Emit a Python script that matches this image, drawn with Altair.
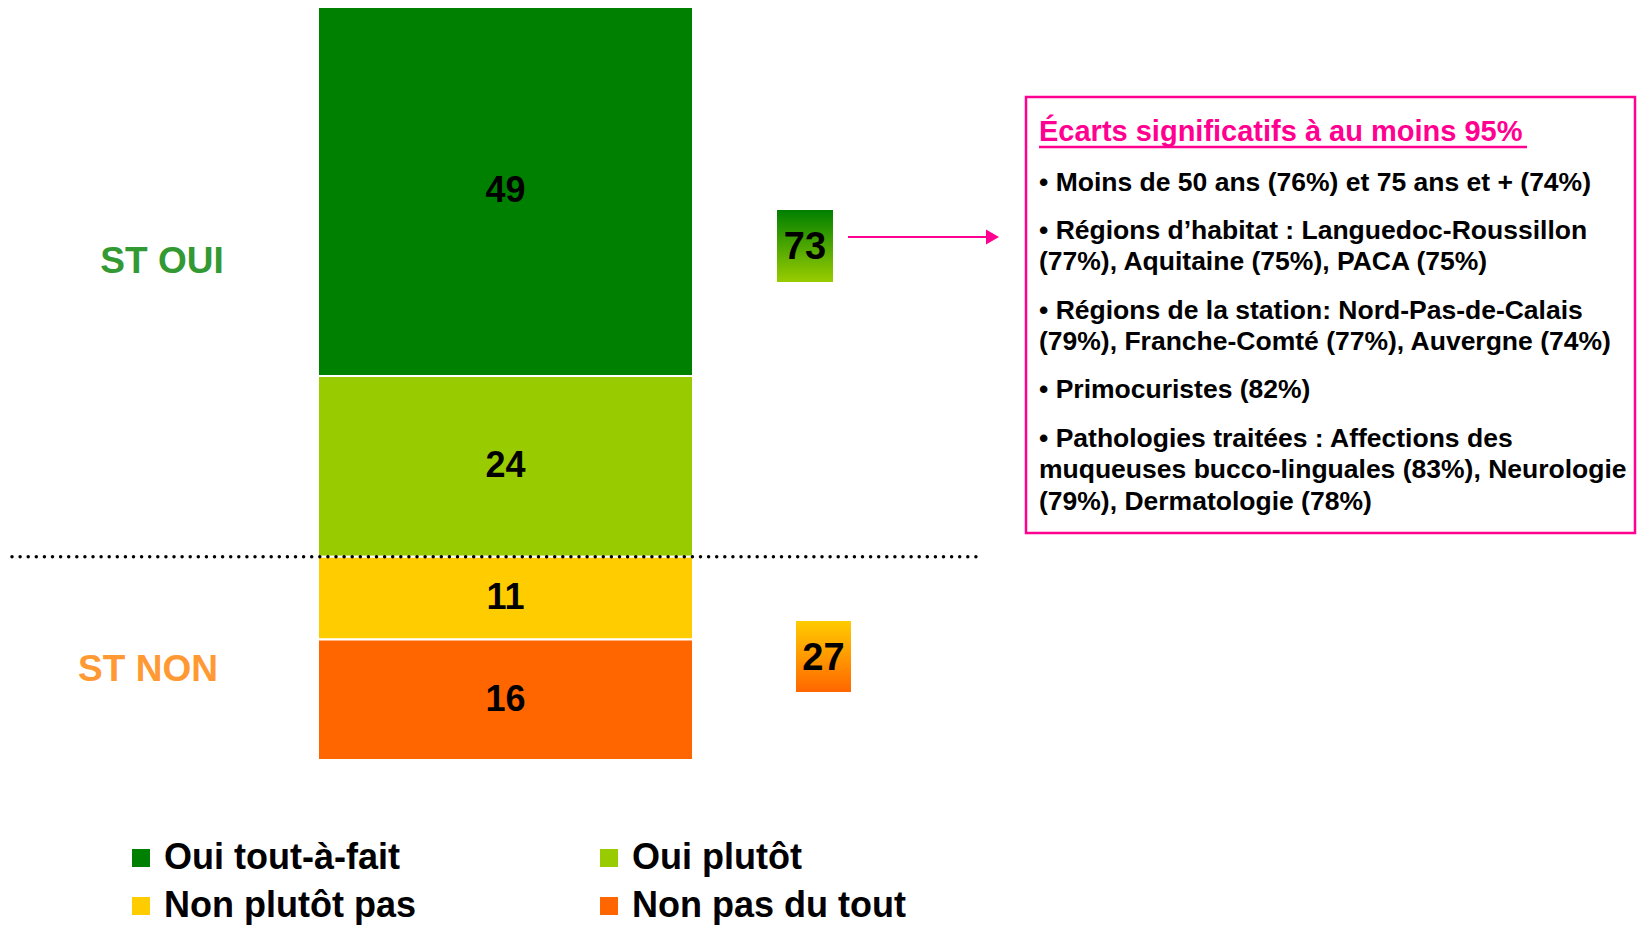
import altair as alt
import pandas as pd

# ---------------- data ----------------
categories = ["Oui tout-à-fait", "Oui plutôt", "Non plutôt pas", "Non pas du tout"]
values = [49, 24, 11, 16]
colors = ["#008000", "#99CC00", "#FFCC00", "#FF6600"]
yes_categories = ["Oui tout-à-fait", "Oui plutôt"]
no_categories = ["Non plutôt pas", "Non pas du tout"]
group_labels = ["ST OUI", "ST NON"]
group_colors = ["#339933", "#FF9933"]
box_title = "Écarts significatifs à au moins 95%"
box_paragraphs = [
    ["• Moins de 50 ans (76%) et 75 ans et + (74%)"],
    ["• Régions d’habitat : Languedoc-Roussillon",
     "(77%), Aquitaine (75%), PACA (75%)"],
    ["• Régions de la station: Nord-Pas-de-Calais",
     "(79%), Franche-Comté (77%), Auvergne (74%)"],
    ["• Primocuristes (82%)"],
    ["• Pathologies traitées : Affections des",
     "muqueuses bucco-linguales (83%), Neurologie",
     "(79%), Dermatologie (78%)"],
]

# ---------------- layout / style ----------------
FONT = "Liberation Sans"
PINK = "#FF0090"
W, H = 1629, 920
BAR_X0, BAR_X1 = 310, 685
Y_RANGE = [-1, 752]

df = pd.DataFrame({"cat": categories, "value": values})
df["end"] = df["value"].cumsum()
df["start"] = df["end"] - df["value"]
df["mid"] = (df["start"] + df["end"]) / 2

yes_total = int(df[df["cat"].isin(yes_categories)]["value"].sum())
no_total = int(df[df["cat"].isin(no_categories)]["value"].sum())
total = int(df["value"].sum())

yscale = alt.Scale(domain=[0, total], range=Y_RANGE, nice=False, zero=False)

bars = alt.Chart(df).mark_rect(stroke="white", strokeWidth=2).encode(
    x=alt.value(BAR_X0),
    x2=alt.value(BAR_X1),
    y=alt.Y("start:Q", scale=yscale, axis=None),
    y2="end:Q",
    color=alt.Color(
        "cat:N",
        scale=alt.Scale(domain=categories, range=colors),
        legend=alt.Legend(
            title=None, orient="none", legendX=115, legendY=832,
            direction="horizontal",
            columns=2, columnPadding=175, rowPadding=12, padding=0,
            symbolType="square", symbolSize=324, symbolStrokeWidth=0,
            symbolOpacity=1,
            labelFont=FONT, labelFontSize=36, labelFontWeight="bold",
            labelColor="black", labelOffset=5, labelLimit=0,
        ),
    ),
)

bar_labels = alt.Chart(df).mark_text(
    font=FONT, fontSize=36, fontWeight="bold", color="black", baseline="middle"
).encode(
    x=alt.value((BAR_X0 + BAR_X1) / 2),
    y=alt.Y("mid:Q", scale=yscale),
    text="value:Q",
)

dotted = alt.Chart(pd.DataFrame({"v": [yes_total]})).mark_rule(
    color="black", strokeWidth=3.5, strokeDash=[0, 8.1], strokeCap="round"
).encode(
    x=alt.value(4), x2=alt.value(976), y=alt.Y("v:Q", scale=yscale)
)

st_oui = alt.Chart(pd.DataFrame({"t": [group_labels[0]]})).mark_text(
    font=FONT, fontSize=37, fontWeight="bold", color=group_colors[0], baseline="middle"
).encode(x=alt.value(154), y=alt.value(254), text="t:N")

st_non = alt.Chart(pd.DataFrame({"t": [group_labels[1]]})).mark_text(
    font=FONT, fontSize=37, fontWeight="bold", color=group_colors[1], baseline="middle"
).encode(x=alt.value(140), y=alt.value(662), text="t:N")

grad_yes = alt.LinearGradient(
    gradient="linear", x1=0, x2=0, y1=0, y2=1,
    stops=[alt.GradientStop(offset=0, color=colors[0]),
           alt.GradientStop(offset=1, color=colors[1])],
)
grad_no = alt.LinearGradient(
    gradient="linear", x1=0, x2=0, y1=0, y2=1,
    stops=[alt.GradientStop(offset=0, color=colors[2]),
           alt.GradientStop(offset=1, color=colors[3])],
)

yes_df = pd.DataFrame({"v": [yes_total]})
no_df = pd.DataFrame({"v": [no_total]})

box_yes = alt.Chart(yes_df).mark_rect(fill=grad_yes).encode(
    x=alt.value(769), x2=alt.value(825), y=alt.value(202), y2=alt.value(274)
)
txt_yes = alt.Chart(yes_df).mark_text(
    font=FONT, fontSize=38, fontWeight="bold", color="black", baseline="middle"
).encode(x=alt.value(797), y=alt.value(240), text="v:Q")

box_no = alt.Chart(no_df).mark_rect(fill=grad_no).encode(
    x=alt.value(788), x2=alt.value(843), y=alt.value(613), y2=alt.value(684)
)
txt_no = alt.Chart(no_df).mark_text(
    font=FONT, fontSize=38, fontWeight="bold", color="black", baseline="middle"
).encode(x=alt.value(815.5), y=alt.value(651), text="v:Q")

arrow_line = alt.Chart(yes_df).mark_rule(color=PINK, strokeWidth=2).encode(
    x=alt.value(840), x2=alt.value(980), y=alt.value(229)
)
arrow_head = alt.Chart(yes_df).mark_point(
    shape="triangle-right", size=225, filled=True, color=PINK, opacity=1
).encode(x=alt.value(984.5), y=alt.value(229))

frame = alt.Chart(yes_df).mark_rect(
    fill="white", stroke=PINK, strokeWidth=2.5
).encode(x=alt.value(1018), x2=alt.value(1627), y=alt.value(89), y2=alt.value(525))

title_txt = alt.Chart(pd.DataFrame({"t": [box_title]})).mark_text(
    font=FONT, fontSize=29, fontWeight="bold", color=PINK, align="left", baseline="middle"
).encode(x=alt.value(1031), y=alt.value(124), text="t:N")
underline = alt.Chart(yes_df).mark_rule(color=PINK, strokeWidth=2.5).encode(
    x=alt.value(1031), x2=alt.value(1519), y=alt.value(139)
)

line_layers = []
y = 174.5
LINE_H = 31.5
PARA_GAP = 16.8
for para in box_paragraphs:
    for line in para:
        line_layers.append(
            alt.Chart(pd.DataFrame({"t": [line]})).mark_text(
                font=FONT, fontSize=26.5, fontWeight="bold", color="black",
                align="left", baseline="middle"
            ).encode(x=alt.value(1031), y=alt.value(y), text="t:N")
        )
        y += LINE_H
    y += PARA_GAP

chart = alt.layer(
    bars, bar_labels, dotted, st_oui, st_non,
    box_yes, txt_yes, box_no, txt_no,
    arrow_line, arrow_head, frame, title_txt, underline, *line_layers
).properties(
    width=W, height=H, padding=0,
    autosize=alt.AutoSizeParams(type="none"),
    background="white",
).configure_view(strokeWidth=0)

chart.save("out.html", embed_options={"renderer": "svg", "actions": False})
